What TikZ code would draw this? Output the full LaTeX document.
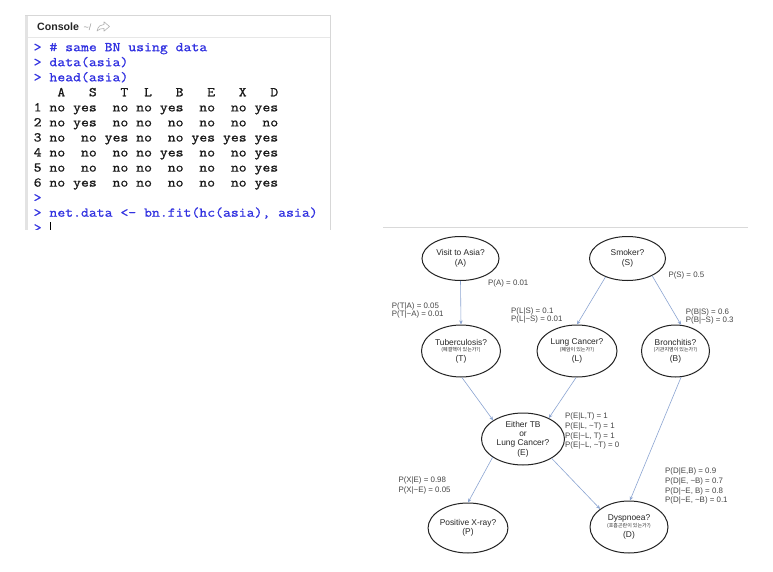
\documentclass[tikz,border=0pt]{standalone}
\usepackage{fontspec}
\setmainfont{Liberation Sans}
\setmonofont[FakeStretch=1.143,FakeBold=0.9]{Latin Modern Mono}
\newfontfamily\krfont{Noto Sans CJK KR}
\usetikzlibrary{shapes.geometric,arrows.meta}
\definecolor{rblue}{RGB}{50,50,225}
\definecolor{edgeblue}{RGB}{140,165,210}
\definecolor{nodeline}{RGB}{35,35,35}
\definecolor{labtext}{RGB}{70,70,70}
\definecolor{panelgray}{RGB}{215,215,215}
\newcommand\krsub[1]{{\krfont\fontsize{5}{6}\selectfont #1}}
\begin{document}
\begin{tikzpicture}[x=1pt,y=-1pt,
  bnnode/.style={ellipse, draw=nodeline, line width=1pt, inner sep=0pt, align=center,
    font=\fontsize{8.4}{9.6}\selectfont, text=black!85},
  bnedge/.style={draw=edgeblue, line width=0.6pt, -{Stealth[length=4pt,width=3.4pt]}},
  prob/.style={anchor=west, inner sep=0pt, align=left, text=labtext},
  con/.style={anchor=base west, inner sep=0pt, font=\ttfamily\fontsize{13.4}{15}\selectfont},
  cmd/.style={con, text=rblue},
  outtxt/.style={con, text=black!90}]
\useasboundingbox (0,0) rectangle (773,572);
\fill[white] (0,0) rectangle (773,572);

% ---------------- console panel ----------------
\begin{scope}
\clip (24,14) rectangle (332,229.5);
\fill[panelgray!70] (25,15) rectangle (27.5,232);
\draw[panelgray, line width=0.8pt] (25,15) -- (330,15);
\draw[panelgray, line width=0.8pt] (330,15) -- (330,232);
\draw[panelgray!60, line width=0.6pt] (27.5,37) -- (330,37);
\node[anchor=west, inner sep=0pt, font=\bfseries\fontsize{10.6}{12}\selectfont, text=black!85] (hdr) at (37,26.7) {Console};
\node[anchor=west, inner sep=0pt, font=\fontsize{9}{11}\selectfont, text=black!40] (wd) at (83.5,27.2) {\textasciitilde/};
\draw[black!30, line width=0.6pt, line join=round] (97,31) .. controls (98,26) and (101,24.5) .. (104,24.5) -- (104,21.8) -- (109.5,26.5) -- (104,31.2) -- (104,28.5) .. controls (101,28.5) and (99,29) .. cycle;

\node[cmd] (c0) at (33.5,51.2) {> \# same BN using data};
\node[cmd] (c1) at (33.5,66.2) {> data(asia)};
\node[cmd] (c2) at (33.5,81.3) {> head(asia)};
\node[outtxt] (c3) at (33.5,96.3) {~~~A~~~S~~~T~~L~~~B~~~E~~~X~~~D};
\node[outtxt] (c4) at (33.5,111.4) {1~no~yes~~no~no~yes~~no~~no~yes};
\node[outtxt] (c5) at (33.5,126.4) {2~no~yes~~no~no~~no~~no~~no~~no};
\node[outtxt] (c6) at (33.5,141.5) {3~no~~no~yes~no~~no~yes~yes~yes};
\node[outtxt] (c7) at (33.5,156.5) {4~no~~no~~no~no~yes~~no~~no~yes};
\node[outtxt] (c8) at (33.5,171.6) {5~no~~no~~no~no~~no~~no~~no~yes};
\node[outtxt] (c9) at (33.5,186.6) {6~no~yes~~no~no~~no~~no~~no~yes};
\node[cmd] (c10) at (33.5,201.7) {>};
\node[cmd] (c11) at (33.5,216.7) {> net.data <- bn.fit(hc(asia), asia)};
\node[cmd] (c12) at (33.5,231.8) {>};
\fill[black] (50,222) rectangle (51.4,232);
\end{scope}

% ---------------- Bayesian network ----------------
\draw[black!15, line width=0.8pt] (383,227.3) -- (748,227.3);

\node[bnnode, minimum width=77pt, minimum height=44pt] (A) at (460.5,258.5) {Visit to Asia?\\(A)};
\node[bnnode, minimum width=76pt, minimum height=44pt] (S) at (627.5,258.5) {Smoker?\\(S)};
\node[bnnode, minimum width=79pt, minimum height=52pt] (T) at (461,351)
  {Tuberculosis?\\[-3pt]\krsub{(폐결핵이 있는가?)}\\[0pt](T)};
\node[bnnode, minimum width=80pt, minimum height=52pt] (L) at (577,351)
  {Lung Cancer?\\[-3pt]\krsub{(폐암이 있는가?)}\\[0pt](L)};
\node[bnnode, minimum width=68pt, minimum height=52pt] (B) at (675.5,351)
  {Bronchitis?\\[-3pt]\krsub{(기관지염이 있는가?)}\\[0pt](B)};
\node[bnnode, minimum width=83pt, minimum height=52pt, font=\fontsize{8.4}{9.3}\selectfont] (E) at (523,439)
  {Either TB\\or\\Lung Cancer?\\(E)};
\node[bnnode, minimum width=77pt, minimum height=50pt] (P) at (468,528) {Positive X-ray?\\(P)};
\node[bnnode, minimum width=78pt, minimum height=52pt] (D) at (629,527)
  {Dyspnoea?\\[-3pt]\krsub{(호흡곤란이 있는가?)}\\[0pt](D)};

\draw[bnedge] (A.south) -- (T.north);
\draw[bnedge] (S.220) -- (L.north);
\draw[bnedge] (S.325) -- (B.78);
\draw[bnedge] (T.272) -- (E.148);
\draw[bnedge] (L.268) -- (E.39);
\draw[bnedge] (B.282) -- (D.88);
\draw[bnedge] (E.326) -- (D.148);
\draw[bnedge] (E.211) -- (P.north);

\node[prob, font=\fontsize{7.9}{8.3}\selectfont] (pA) at (488,283.3) {P(A) = 0.01};
\node[prob, font=\fontsize{7.9}{8.3}\selectfont] (pT) at (391.7,310.2) {P(T|A) = 0.05\\P(T|\textasciitilde A) = 0.01};
\node[prob, font=\fontsize{7.9}{8.3}\selectfont] (pL) at (511,315.2) {P(L|S) = 0.1\\P(L|\textasciitilde S) = 0.01};
\node[prob, font=\fontsize{7.9}{8.3}\selectfont] (pS) at (668.3,275) {P(S) = 0.5};
\node[prob, font=\fontsize{7.9}{8.0}\selectfont] (pB) at (685.7,316.7) {P(B|S) = 0.6\\P(B|\textasciitilde S) = 0.3};
\node[prob, font=\fontsize{7.9}{9.6}\selectfont] (pE) at (565,431.2)
  {P(E|L,T) = 1\\P(E|L, \textasciitilde T) = 1\\P(E|\textasciitilde L, T) = 1\\P(E|\textasciitilde L, \textasciitilde T) = 0};
\node[prob, font=\fontsize{7.9}{10}\selectfont] (pX) at (398.3,485) {P(X|E) = 0.98\\P(X|\textasciitilde E) = 0.05};
\node[prob, font=\fontsize{7.9}{9.65}\selectfont] (pD) at (665,486.2)
  {P(D|E,B) = 0.9\\P(D|E, \textasciitilde B) = 0.7\\P(D|\textasciitilde E, B) = 0.8\\P(D|\textasciitilde E, \textasciitilde B) = 0.1};
\end{tikzpicture}
\end{document}
